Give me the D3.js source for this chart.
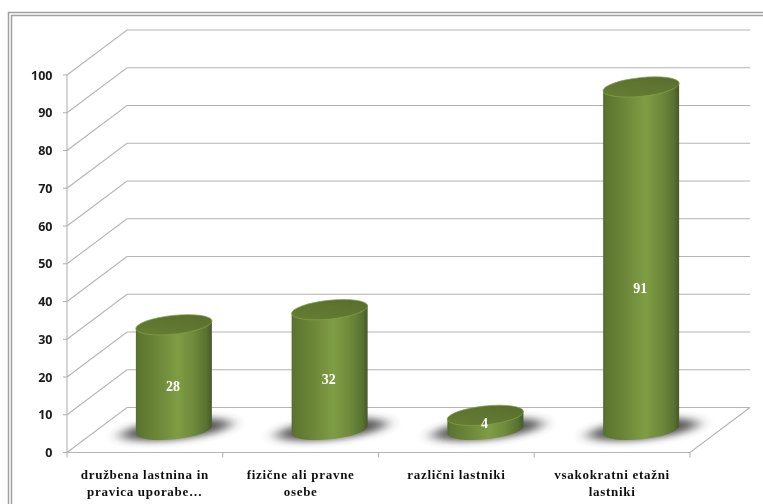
<!DOCTYPE html>
<html><head><meta charset="utf-8">
<script src="https://cdnjs.cloudflare.com/ajax/libs/d3/7.8.5/d3.min.js"></script>
<style>html,body{margin:0;padding:0;background:#fff;overflow:hidden}svg{display:block}</style>
</head><body>
<svg id="c" width="763" height="504"></svg>
<script>
const categories = [["družbena lastnina in","pravica uporabe…"],["fizične ali pravne","osebe"],["različni lastniki"],["vsakokratni etažni","lastniki"]];
const values = [28,32,4,91];
const ticks = [0,10,20,30,40,50,60,70,80,90,100];

const svg = d3.select("#c");
const x = d3.scaleBand().domain(d3.range(values.length)).range([67,690]);
const y = d3.scaleLinear().domain([0,100]).range([452.5,75]);
const depthX = 60, depthY = 45;
const barW = 76, rx = 38.3, ry = 9.4, tilt = -6, lift = 4;
const cx = i => x(i) + x.bandwidth()/2 + 29;
const baseShift = 22;

const defs = svg.append("defs");
const bodyGrad = defs.append("linearGradient").attr("id","body");
[[0,"#566f2c"],[.05,"#5d7631"],[.25,"#6a8437"],[.55,"#7f9d45"],[.75,"#708b3b"],[.93,"#587230"],[1,"#46592a"]]
  .forEach(s=>bodyGrad.append("stop").attr("offset",s[0]).attr("stop-color",s[1]));
const topGrad = defs.append("linearGradient").attr("id","topg").attr("x1",0).attr("x2",1).attr("y1",1).attr("y2",0);
[[0,"#677f33"],[.5,"#5f7630"],[1,"#566b2b"]].forEach(s=>topGrad.append("stop").attr("offset",s[0]).attr("stop-color",s[1]));
defs.append("filter").attr("id","sh").attr("filterUnits","userSpaceOnUse").attr("x",0).attr("y",380).attr("width",763).attr("height",100)
  .append("feGaussianBlur").attr("stdDeviation","8 3.5");
defs.append("filter").attr("id","soft").attr("filterUnits","userSpaceOnUse").attr("x",0).attr("y",0).attr("width",763).attr("height",504)
  .append("feGaussianBlur").attr("stdDeviation",0.45);

const root = svg.append("g").attr("filter","url(#soft)");
root.append("rect").attr("width",763).attr("height",504).attr("fill","#fff");

// frame
root.append("rect").attr("x",8.5).attr("y",12.5).attr("width",800).attr("height",600).attr("fill","none").attr("stroke","#a0a0a0").attr("stroke-width",1.5);
root.append("rect").attr("x",11.5).attr("y",15.5).attr("width",800).attr("height",600).attr("fill","none").attr("stroke","#a0a0a0").attr("stroke-width",1.5);

// gridlines on side and back walls
const grid = root.append("g").attr("fill","none").attr("stroke","#b4b4b4").attr("stroke-width",1.1);
ticks.forEach(t=>{
  grid.append("path").attr("d",d3.line()([[x.range()[0],y(t)],[x.range()[0]+depthX,y(t)-depthY],[x.range()[1]+depthX,y(t)-depthY]]));
});
// floor front and right edges, axis
grid.append("path").attr("d",d3.line()([[x.range()[1]+depthX,y(0)-depthY],[x.range()[1],y(0)],[x.range()[0],y(0)],[x.range()[0],y(100)]]));
// ticks
ticks.forEach(t=>grid.append("line").attr("x1",x.range()[0]-4).attr("x2",x.range()[0]).attr("y1",y(t)).attr("y2",y(t)));
d3.range(values.length+1).forEach(i=>{
  const px = i<values.length ? x(i) : x.range()[1];
  grid.append("line").attr("x1",px).attr("x2",px).attr("y1",y(0)).attr("y2",y(0)+5);
});

// y tick labels
root.append("g").selectAll("text").data(ticks).join("text")
  .attr("x",52.5).attr("y",d=>y(d)+4.5).attr("text-anchor","end")
  .attr("font-family","'Open Sans','DejaVu Sans',sans-serif").attr("font-weight",700).attr("font-size",12.5).attr("fill","#1a1a1a")
  .text(d=>d);

// category labels
categories.forEach((lines,i)=>{
  const t = root.append("text").attr("text-anchor","middle")
    .attr("font-family","'Liberation Serif',serif").attr("font-weight",700).attr("font-size",13).attr("letter-spacing",0.7).attr("fill","#111");
  lines.forEach((l,j)=>t.append("tspan").attr("x",x(i)+x.bandwidth()/2).attr("y",478.5+j*17).text(l));
});

// shadows
root.append("g").selectAll("ellipse").data(values).join("ellipse")
  .attr("cx",(d,i)=>cx(i)+2).attr("cy",y(0)-baseShift-1).attr("rx",55).attr("ry",10)
  .attr("transform",(d,i)=>`rotate(${tilt} ${cx(i)+2} ${y(0)-baseShift-1})`)
  .attr("fill","#333").attr("opacity",.8).attr("filter","url(#sh)");

// cylinders
const bars = root.append("g");
values.forEach((v,i)=>{
  const c = cx(i), by = y(0)-baseShift, ty = y(v)-baseShift;
  const L = c-barW/2, R = c+barW/2;
  bars.append("path").attr("fill","url(#body)")
    .attr("d",`M${L},${ty+lift}L${L},${by+lift}A${rx},${ry} ${tilt} 0 0 ${R},${by-lift}L${R},${ty-lift}Z`);
  bars.append("ellipse").attr("cx",c).attr("cy",ty).attr("rx",rx).attr("ry",ry)
    .attr("transform",`rotate(${tilt} ${c} ${ty})`).attr("fill","url(#topg)")
    .attr("stroke","#84a04c").attr("stroke-width",.7);
  bars.append("text").attr("x",c-1).attr("y",by-(by-ty)*0.41+3.5).attr("text-anchor","middle")
    .attr("font-family","'Liberation Serif',serif").attr("font-weight",700).attr("font-size",14).attr("fill","#fff").text(v);
});
</script>
</body></html>
